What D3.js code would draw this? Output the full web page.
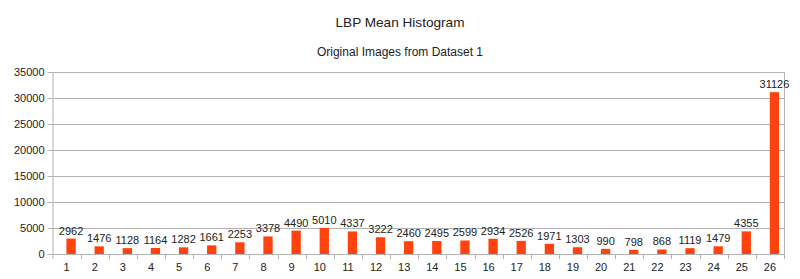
<!DOCTYPE html>
<html><head><meta charset="utf-8">
<script src="https://cdn.jsdelivr.net/npm/d3@7"></script>
<style>body{margin:0;background:#fff}svg{display:block}text{font-family:"Liberation Sans",Arial,sans-serif}</style>
</head><body>
<svg id="c" width="800" height="279"></svg>
<script>
const categories = ["1","2","3","4","5","6","7","8","9","10","11","12","13","14","15","16","17","18","19","20","21","22","23","24","25","26"];
const values = [2962,1476,1128,1164,1282,1661,2253,3378,4490,5010,4337,3222,2460,2495,2599,2934,2526,1971,1303,990,798,868,1119,1479,4355,31126];
const yTicks = [0,5000,10000,15000,20000,25000,30000,35000];
const title = "LBP Mean Histogram";
const subtitle = "Original Images from Dataset 1";

const svg = d3.select("#c");
const L = 52.5, R = 784, T = 72, B = 254;
const x = d3.scaleBand().domain(categories).range([L, R]);
const y = d3.scaleLinear().domain([0, 35000]).range([B, T]);
const grid = "#b3b3b3";

svg.append("text").attr("x", 400).attr("y", 27).attr("text-anchor","middle")
  .attr("font-size", 13.6).attr("fill","#222").text(title);
svg.append("text").attr("x", 400).attr("y", 55.5).attr("text-anchor","middle")
  .attr("font-size", 12).attr("fill","#222").text(subtitle);

// gridlines
svg.append("g").selectAll("line").data(yTicks).join("line")
  .attr("x1", L - 5).attr("x2", R).attr("y1", d => Math.round(y(d)) + 0.5).attr("y2", d => Math.round(y(d)) + 0.5)
  .attr("stroke", grid).attr("stroke-width", 1);
// right border
svg.append("line").attr("x1", R + 0.5).attr("x2", R + 0.5).attr("y1", T).attr("y2", B)
  .attr("stroke", grid);
// left axis
const ya = svg.append("g").attr("transform", `translate(${L},0)`)
  .call(d3.axisLeft(y).tickValues(yTicks).tickSize(0).tickPadding(8).tickFormat(d3.format("d")));
ya.select(".domain").attr("stroke", grid).attr("d", `M0.5,${T}V${B + 5}`);
ya.selectAll("text").attr("font-size", 11).attr("fill", "#222").attr("font-family", '"Liberation Sans",Arial,sans-serif');

// bottom axis
const xa = svg.append("g").attr("transform", `translate(0,${B})`)
  .call(d3.axisBottom(x).tickSize(0).tickPadding(9));
xa.select(".domain").attr("stroke", grid).attr("d", `M${L},0.5H${R}`);
xa.selectAll("text").attr("font-size", 11).attr("fill", "#222").attr("font-family", '"Liberation Sans",Arial,sans-serif');
// category separator ticks
svg.append("g").selectAll("line").data(categories).join("line")
  .attr("x1", d => Math.round(x(d) + x.bandwidth()) + 0.5).attr("x2", d => Math.round(x(d) + x.bandwidth()) + 0.5)
  .attr("y1", B).attr("y2", B + 5).attr("stroke", grid);

// bars
const bw = 9.3, off = 4.5;
const cx = d => x(d) + x.bandwidth() / 2 + off;
svg.append("g").selectAll("rect").data(categories).join("rect")
  .attr("x", (d) => cx(d) - bw / 2)
  .attr("width", bw)
  .attr("y", (d, i) => y(values[i]))
  .attr("height", (d, i) => B - y(values[i]))
  .attr("fill", "#ff420e");
// value labels
svg.append("g").selectAll("text").data(categories).join("text")
  .attr("x", d => cx(d))
  .attr("y", (d, i) => y(values[i]) - 4)
  .attr("text-anchor", "middle").attr("font-size", 11).attr("fill", "#222")
  .text((d, i) => values[i]);
</script>
</body></html>
